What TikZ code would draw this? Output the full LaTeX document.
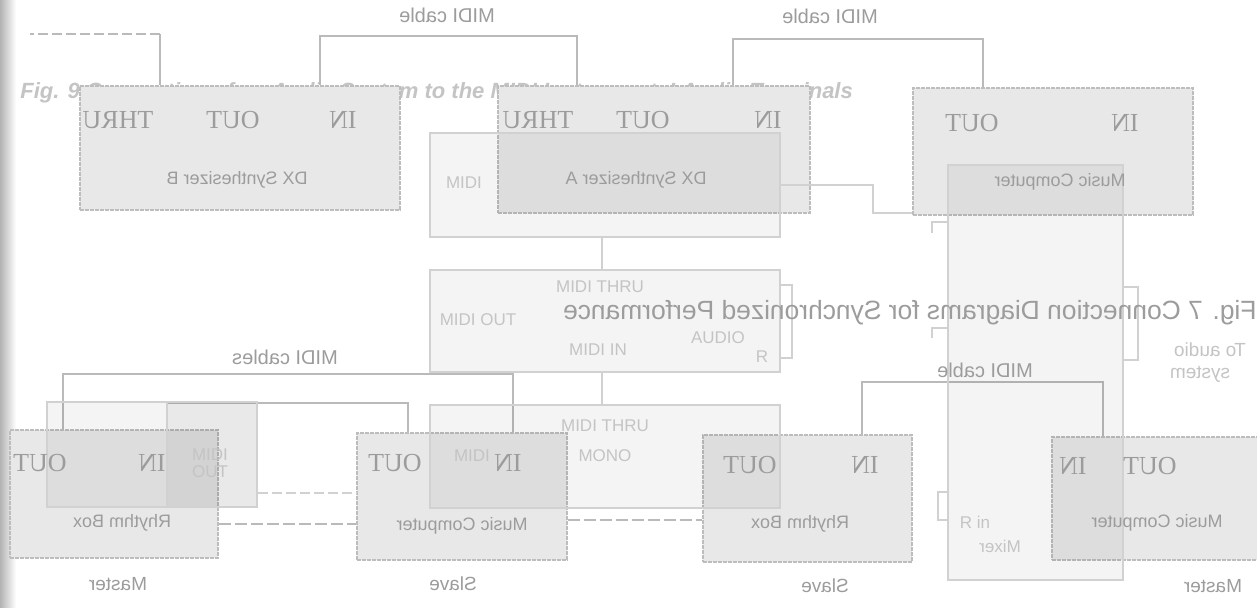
\documentclass[tikz,border=0pt]{standalone}
\usepackage{fontspec}
\setmainfont{Liberation Serif}
\setsansfont{Liberation Sans}
\usepackage{graphicx}
\definecolor{mfill}{gray}{0.91}
\definecolor{medge}{gray}{0.74}
\definecolor{mtext}{gray}{0.61}
\definecolor{gedge}{gray}{0.82}
\definecolor{gtext}{gray}{0.77}
\definecolor{cab}{gray}{0.73}
\newcommand{\mirr}[1]{\reflectbox{#1}}
\begin{document}
\begin{tikzpicture}[x=0.5pt,y=-0.5pt,
  cable/.style={draw=cab, line width=0.75pt},
  gcable/.style={draw=gedge, line width=0.6pt},
  mbox/.style={draw=medge, fill=mfill, line width=1pt, inner sep=0pt, dash pattern=on 2pt off 0.5pt},
  gbox/.style={draw=gedge, fill=black, fill opacity=0.045, line width=0.7pt, inner sep=0pt},
  port/.style={text=mtext, inner sep=1pt, font=\fontsize{13}{14}\selectfont},
  dev/.style={text=mtext, inner sep=1pt, font=\sffamily\fontsize{9}{10}\selectfont},
  role/.style={text=mtext, inner sep=1pt, font=\sffamily\fontsize{9.5}{10}\selectfont},
  clbl/.style={text=mtext, inner sep=1pt, font=\sffamily\fontsize{10}{11}\selectfont},
  gtxt/.style={text=gtext, inner sep=1pt, font=\sffamily\fontsize{8.5}{9}\selectfont},
  gbig/.style={text=gtext, inner sep=1pt, font=\sffamily\fontsize{9.5}{10}\selectfont},
  gcaption/.style={text=gtext, inner sep=1pt, font=\sffamily\bfseries\itshape\fontsize{11}{12}\selectfont},
  mcaption/.style={text=mtext, inner sep=1pt, font=\sffamily\fontsize{13.2}{14}\selectfont}
]
\path[use as bounding box, fill=white] (0,0) rectangle (1257,608);
\shade[left color=gray!60, right color=white] (0,0) rectangle (16,608);

% ghost caption (under everything)
\node[gcaption, anchor=west] (fig9) at (18,93) {Fig. 9 Connection of an Audio System to the MIDI Instruments' Audio Terminals};

% ---------- main boxes ----------
\node[mbox, minimum width=160pt, minimum height=62pt]   (b1) at (240,148) {};
\node[mbox, minimum width=156pt, minimum height=63.5pt] (b2) at (654,149.5) {};
\node[mbox, minimum width=140pt, minimum height=63.5pt] (b3) at (1053,151.5) {};
\node[mbox, minimum width=104pt, minimum height=64pt]   (b4) at (114,494) {};
\node[mbox, minimum width=105pt, minimum height=63.5pt] (b5) at (462,496.5) {};
\node[mbox, minimum width=104.5pt, minimum height=63.5pt] (b6) at (807.5,498.5) {};
\node[mbox, minimum width=105pt, minimum height=61.5pt] (b7) at (1157,498.5) {};

% ---------- main cables ----------
\coordinate (c1L) at (30,34);
\draw[cable] (b1.north -| 160,0) -- (160,34) coordinate (c1k);
\draw[cable, dash pattern=on 5pt off 2pt] (c1k) -- (c1L);
\draw[cable] (b1.north -| 320,0) |- (577,36) -- (b2.north -| 577,0);
\draw[cable] (b2.north -| 733,0) |- (983,39) -- (b3.north -| 983,0);
\draw[cable] (b4.north -| 63,0) |- (513,374) -- (b5.north -| 513,0);
\draw[cable] (b4.north -| 167,0) |- (408,403) -- (b5.north -| 408,0);
\draw[cable] (b6.north -| 862,0) |- (1103,382) -- (b7.north -| 1103,0);
\draw[cable, dash pattern=on 6pt off 2pt] (b4.east |- 0,524) -- (b5.west |- 0,524);
\draw[cable, dash pattern=on 6pt off 2pt] (b5.east |- 0,520) -- (b6.west |- 0,520);

% ---------- ghost boxes ----------
\node[gbox, minimum width=175pt, minimum height=52pt]    (g1) at (605,185) {};
\node[gbox, minimum width=175pt, minimum height=51pt]    (g2) at (605,321) {};
\node[gbox, minimum width=175pt, minimum height=51.5pt]  (g3) at (605,456.5) {};
\node[gbox, minimum width=87.5pt, minimum height=207.5pt] (g4) at (1035.5,372.5) {};
\node[gbox, minimum width=105pt, minimum height=52.5pt]  (g5) at (152,454.5) {};
\node[gbox, minimum width=45pt, minimum height=52.5pt]   (g5b) at (212,454.5) {};

% ghost connectors
\draw[gcable] (g1.south -| 602,0) -- (g2.north -| 602,0);
\draw[gcable] (g2.south -| 602,0) -- (g3.north -| 602,0);
\draw[gcable] (g1.east |- 0,185) -| (873,213) -- (b3.west |- 0,213);
\draw[gcable] (g2.east |- 0,285) -- (792,285) -- (792,358) -- (g2.east |- 0,358);
\draw[gcable] (g4.east |- 0,287) -- (1138,287) -- (1138,360) -- (g4.east |- 0,360);
\draw[gcable] (g4.west |- 0,222) -- (932,222) -- (932,233);
\draw[gcable] (g4.west |- 0,328) -- (932,328) -- (932,338);
\draw[gcable] (g4.west |- 0,492) -- (938,492) -- (938,520) -- (g4.west |- 0,520);
\draw[gcable, dash pattern=on 5pt off 2pt] (g5.east |- 0,493) -- (b5.west |- 0,493);

% ghost texts
\node[gtxt] (g1a) at (464,183) {MIDI};
\node[gtxt] (g2a) at (600,287) {MIDI THRU};
\node[gtxt] (g2b) at (478,320) {MIDI OUT};
\node[gtxt] (g2c) at (718,338) {AUDIO};
\node[gtxt] (g2d) at (598,350) {MIDI IN};
\node[gtxt] (g2e) at (762,357) {R};
\node[gtxt] (g3a) at (605,426) {MIDI THRU};
\node[gtxt] (g3b) at (472,456) {MIDI};
\node[gtxt] (g3c) at (605,456) {MONO};
\node[gtxt] (g5a) at (210,455) {MIDI};
\node[gtxt] (g5c) at (210,472) {OUT};
\node[gtxt] (g4a) at (975,522) {R in};
\node[gtxt] (g4b) at (1000,546) {\mirr{Mixer}};
\node[gbig] (aud1) at (1210,350) {\mirr{To audio}};
\node[gbig] (aud2) at (1200,374) {\mirr{system}};

% ---------- main texts ----------
\node[port] (p1a) at (118,120) {\mirr{THRU}};
\node[port] (p1b) at (233,120) {\mirr{OUT}};
\node[port] (p1c) at (343,120) {\mirr{IN}};
\node[dev]  (d1)  at (237,180) {\mirr{DX Synthesizer B}};
\node[port] (p2a) at (538,120) {\mirr{THRU}};
\node[port] (p2b) at (643,120) {\mirr{OUT}};
\node[port] (p2c) at (768,120) {\mirr{IN}};
\node[dev]  (d2)  at (636,180) {\mirr{DX Synthesizer A}};
\node[port] (p3a) at (972,123) {\mirr{OUT}};
\node[port] (p3b) at (1125,123) {\mirr{IN}};
\node[dev]  (d3)  at (1060,182) {\mirr{Music Computer}};

\node[port] (p4a) at (40,463) {\mirr{OUT}};
\node[port] (p4b) at (152,463) {\mirr{IN}};
\node[dev]  (d4)  at (122,523) {\mirr{Rhythm Box}};
\node[port] (p5a) at (395,463) {\mirr{OUT}};
\node[port] (p5b) at (508,463) {\mirr{IN}};
\node[dev]  (d5)  at (462,526) {\mirr{Music Computer}};
\node[port] (p6a) at (750,465) {\mirr{OUT}};
\node[port] (p6b) at (865,465) {\mirr{IN}};
\node[dev]  (d6)  at (800,524) {\mirr{Rhythm Box}};
\node[port] (p7a) at (1073,466) {\mirr{IN}};
\node[port] (p7b) at (1150,466) {\mirr{OUT}};
\node[dev]  (d7)  at (1157,523) {\mirr{Music Computer}};

\node[role] (r1) at (118,584) {\mirr{Master}};
\node[role] (r2) at (453,584) {\mirr{Slave}};
\node[role] (r3) at (825,586) {\mirr{Slave}};
\node[role] (r4) at (1213,586) {\mirr{Master}};

\node[clbl] (l1) at (447,15) {\mirr{MIDI cable}};
\node[clbl] (l2) at (830,16) {\mirr{MIDI cable}};
\node[clbl] (l3) at (285,357) {\mirr{MIDI cables}};
\node[clbl] (l4) at (985,370) {\mirr{MIDI cable}};

\node[mcaption, anchor=east] (fig7) at (1259,313) {\mirr{Fig. 7 Connection Diagrams for Synchronized Performance}};
\end{tikzpicture}
\end{document}
